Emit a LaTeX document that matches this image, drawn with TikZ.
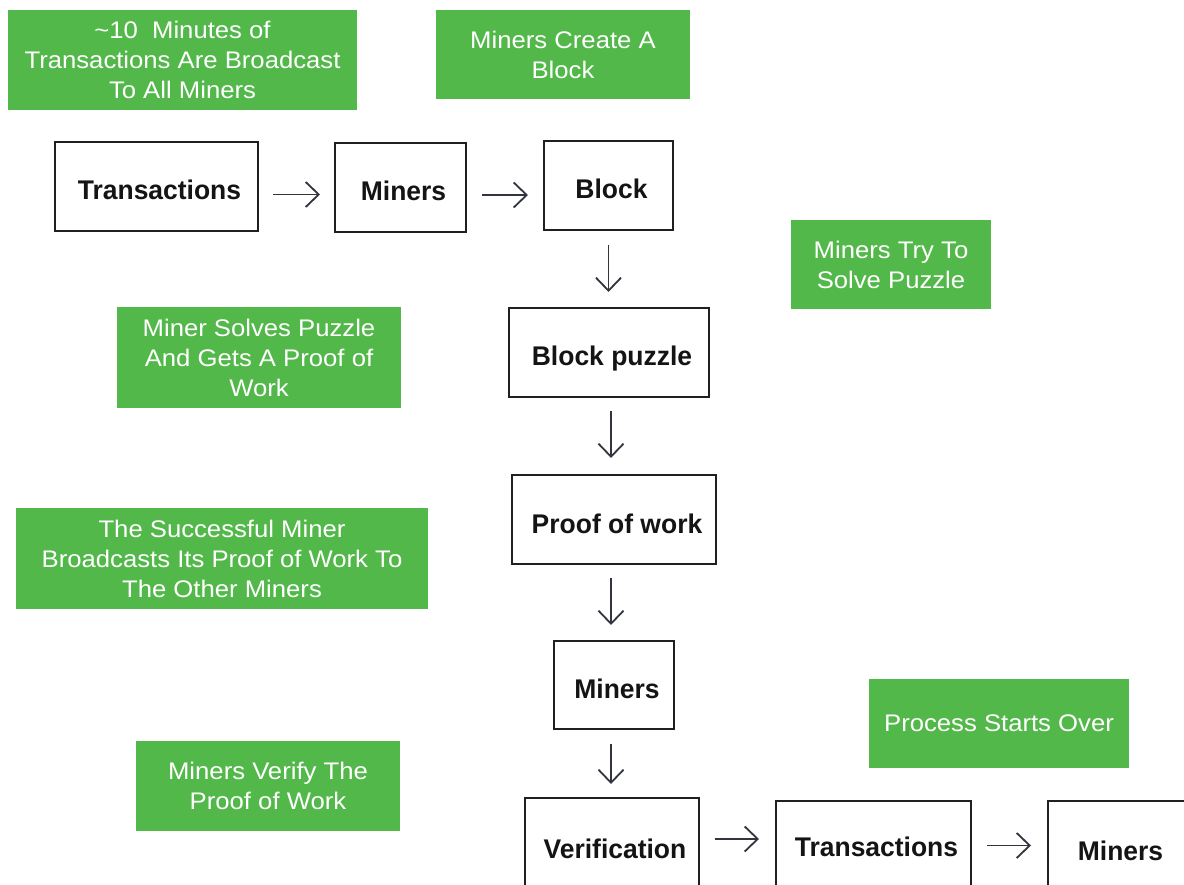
\documentclass[tikz,border=0pt]{standalone}
\usepackage{fontspec}
\setmainfont{Liberation Sans}
\newfontfamily\greenfont[FakeStretch=1.07]{Liberation Sans}
\newfontfamily\boxfont[FakeStretch=0.98]{Liberation Sans Bold}
\usetikzlibrary{arrows.meta}
\definecolor{grn}{RGB}{82,184,73}
\definecolor{edge}{RGB}{35,31,32}
\definecolor{arrc}{RGB}{50,52,62}
\newcommand{\bx}[1]{\hspace*{6pt}#1}
\tikzset{
  greenbox/.style={fill=grn, text=white, align=center, inner sep=0pt,
    font=\greenfont\fontsize{24}{30}\selectfont},
  stepbox/.style={draw=edge, line width=2pt, fill=white, inner sep=0pt,
    text=black!92, text height=27pt, text depth=0pt,
    font=\boxfont\fontsize{27}{32}\selectfont},
  arr/.style={draw=arrc, line width=1.8pt, -{Straight Barb[length=13pt,width=25pt,line width=1.8pt]}}
}
\begin{document}
\begin{tikzpicture}[x=1pt,y=-1pt]
\useasboundingbox (0,0) rectangle (1184,885);
\clip (0,0) rectangle (1184,885);
% green labels
\node[greenbox, minimum width=349pt, minimum height=100pt] (g1) at (182.5,60) {\textasciitilde10\ \ Minutes of\\Transactions Are Broadcast\\To All Miners};
\node[greenbox, minimum width=254pt, minimum height=89pt] (g2) at (563,54.5) {Miners Create A\\Block};
\node[greenbox, minimum width=200pt, minimum height=89pt] (g3) at (891,264.5) {Miners Try To\\Solve Puzzle};
\node[greenbox, minimum width=284pt, minimum height=101pt] (g4) at (259,357.5) {Miner Solves Puzzle\\And Gets A Proof of\\Work};
\node[greenbox, minimum width=412pt, minimum height=101pt] (g5) at (222,558.5) {The Successful Miner\\Broadcasts Its Proof of Work To\\The Other Miners};
\node[greenbox, minimum width=260pt, minimum height=89pt] (g6) at (999,723.5) {Process Starts Over};
\node[greenbox, minimum width=264pt, minimum height=90pt] (g7) at (268,786) {Miners Verify The\\Proof of Work};
% process boxes
\node[stepbox, minimum width=203pt, minimum height=89pt] (t1) at (156.5,186.5) {\bx{Transactions}};
\node[stepbox, minimum width=131pt, minimum height=89pt] (m1) at (400.5,187.5) {\bx{Miners}};
\node[stepbox, minimum width=129pt, minimum height=89pt] (b1) at (608.5,185.5) {\bx{Block}};
\node[stepbox, minimum width=200pt, minimum height=89pt] (bp) at (609,352.5) {\bx{Block puzzle}};
\node[stepbox, minimum width=204pt, minimum height=89pt] (pw) at (614,519.5) {\bx{Proof of work}};
\node[stepbox, minimum width=120pt, minimum height=88pt] (m2) at (614,685) {\bx{Miners}};
\node[stepbox, text height=31pt, minimum width=174pt, minimum height=89pt] (vf) at (612,842.5) {\bx{Verification}};
\node[stepbox, text height=21pt, minimum width=195pt, minimum height=89pt] (t2) at (873.5,845.5) {\bx{Transactions}};
\node[stepbox, text height=29pt, minimum width=139pt, minimum height=89pt] (m3) at (1117.5,845.5) {\bx{Miners}};
% arrows
\draw[arr, shorten <=14pt, shorten >=14pt] ([yshift=-8pt]t1.east) -- ([yshift=-8pt]t1.east -| m1.west);
\draw[arr, shorten <=15pt, shorten >=15pt] ([yshift=-7.5pt]m1.east) -- ([yshift=-7.5pt]m1.east -| b1.west);
\draw[arr, shorten <=14pt, shorten >=15pt] (b1.south) -- (b1.south |- bp.north);
\draw[arr, shorten <=13pt, shorten >=16pt] ([xshift=2pt]bp.south) -- ([xshift=2pt]bp.south |- pw.north);
\draw[arr, shorten <=13pt, shorten >=15pt] ([xshift=-3pt]pw.south) -- ([xshift=-3pt]pw.south |- m2.north);
\draw[arr, shorten <=14pt, shorten >=13pt] ([xshift=-3pt]m2.south) -- ([xshift=-3pt]m2.south |- vf.north);
\draw[arr, shorten <=15pt, shorten >=16pt] ([yshift=3.5pt]vf.east) -- ([yshift=3.5pt]vf.east -| t2.west);
\draw[arr, shorten <=15pt, shorten >=16pt] (t2.east) -- (t2.east -| m3.west);
\end{tikzpicture}
\end{document}
